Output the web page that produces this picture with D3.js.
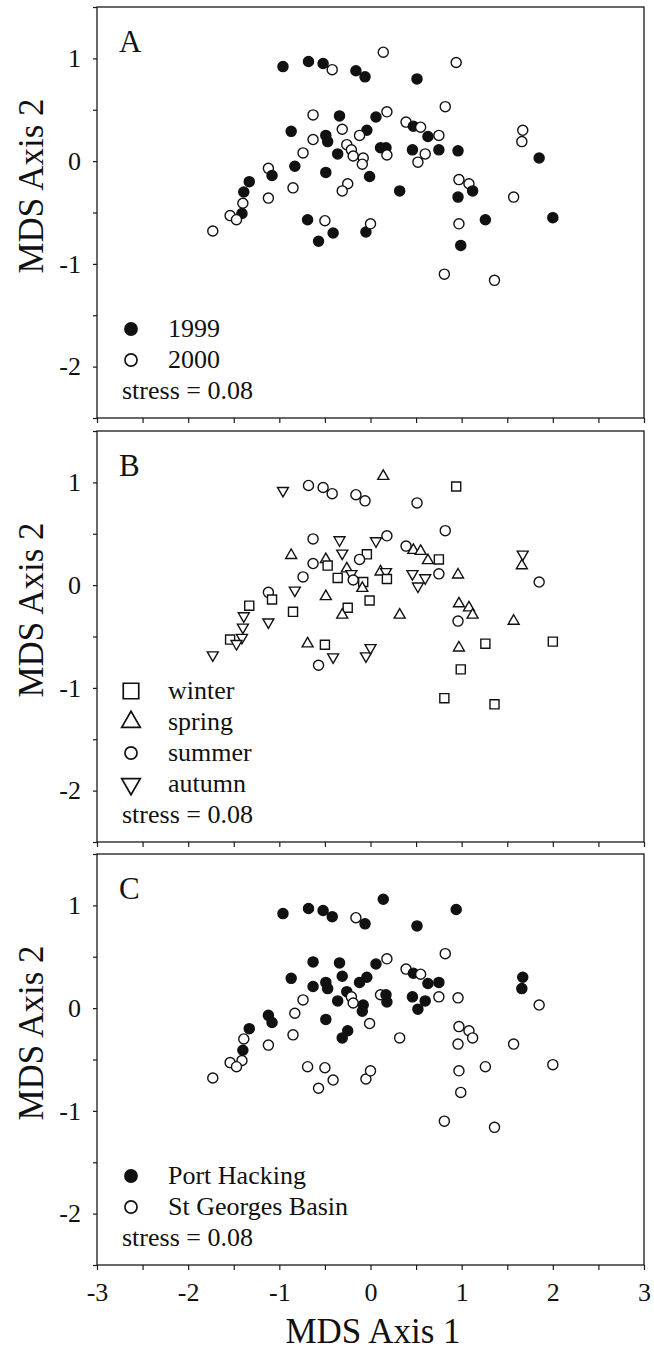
<!DOCTYPE html>
<html>
<head>
<meta charset="utf-8">
<title>MDS ordination</title>
<style>
  body {margin: 0; background: #ffffff;}
  svg {display: block;}
  text {font-family: "Liberation Serif", "Times New Roman", serif; fill: #111;}
  .frame {fill: none; stroke: #1a1a1a; stroke-width: 1.3px;}
  .tick line {stroke: #1a1a1a; stroke-width: 1.2px;}
  .tick text {font-size: 26px;}
  .mark {stroke: #111; stroke-width: 1.4px;}
  .legmark {stroke: #111; stroke-width: 1.7px;}
  .leg {font-size: 26px;}
  .letter {font-size: 31px;}
  .title {font-size: 35px;}
</style>
</head>
<body>
<script src="https://d3js.org/d3.v7.min.js"></script>
<script>

// sample scores on MDS axes 1 and 2
var mdsX = [-0.96,-0.68,-0.52,-0.42,-0.16,-0.06,0.14,0.94,0.51,-0.63,
  -0.34,-0.87,-0.31,-0.04,-0.63,-0.49,-0.47,-0.12,-0.26,-0.21,
  -0.19,-0.08,-0.09,-0.36,-0.74,-1.12,-1.08,-0.83,-0.49,-1.33,
  -1.39,-1.40,-1.12,-0.85,-0.25,-0.31,-0.01,0.18,0.06,
  0.82,0.39,0.47,0.55,0.63,0.75,0.11,0.17,0.18,0.46,
  0.60,0.52,0.75,0.96,1.67,1.66,1.85,
  0.97,1.08,1.12,0.96,0.32,1.57,
  -1.41,-1.54,-1.47,-1.73,
  -0.69,-0.50,-0.57,-0.41,-0.05,0.00,0.97,1.26,2.00,0.99,0.81,1.36];

var mdsY = [0.92,0.97,0.95,0.89,0.88,0.82,1.06,0.96,0.80,0.45,
  0.44,0.29,0.31,0.30,0.21,0.25,0.19,0.25,0.16,0.11,
  0.05,0.03,-0.03,0.07,0.08,-0.07,-0.14,-0.05,-0.11,-0.20,
  -0.30,-0.41,-0.36,-0.26,-0.22,-0.29,-0.15,0.48,0.43,
  0.53,0.38,0.34,0.33,0.24,0.25,0.13,0.13,0.06,0.11,
  0.07,-0.01,0.11,0.10,0.30,0.19,0.03,
  -0.18,-0.22,-0.29,-0.35,-0.29,-0.35,
  -0.51,-0.53,-0.57,-0.68,
  -0.57,-0.58,-0.78,-0.70,-0.69,-0.61,-0.61,-0.57,-0.55,-0.82,-1.10,-1.16];

var year = [1999,1999,1999,2000,1999,1999,2000,2000,1999,2000,
  1999,1999,2000,1999,2000,1999,1999,2000,2000,2000,
  2000,2000,2000,1999,2000,2000,1999,1999,1999,1999,
  1999,2000,2000,2000,2000,2000,1999,2000,1999,
  2000,2000,1999,2000,1999,2000,1999,1999,2000,1999,
  2000,2000,1999,1999,2000,2000,1999,
  2000,2000,1999,1999,1999,2000,
  1999,2000,2000,2000,
  1999,2000,1999,1999,1999,2000,2000,1999,1999,1999,2000,2000];

var season = ["autumn","summer","summer","summer","summer","summer","spring","winter","summer","summer",
  "autumn","spring","autumn","winter","summer","spring","winter","summer","spring","autumn",
  "summer","winter","spring","winter","summer","summer","winter","autumn","spring","winter",
  "autumn","autumn","autumn","winter","winter","spring","winter","summer","autumn",
  "summer","summer","spring","spring","spring","winter","spring","autumn","winter","autumn",
  "autumn","autumn","summer","spring","autumn","spring","summer",
  "spring","spring","spring","summer","spring","spring",
  "autumn","winter","autumn","autumn",
  "spring","winter","summer","autumn","autumn","autumn","spring","winter","winter","winter","winter","winter"];

var site = ["PH","PH","PH","PH","SGB","PH","PH","PH","PH","PH",
  "PH","PH","PH","PH","PH","PH","PH","PH","PH","SGB",
  "SGB","PH","PH","PH","SGB","PH","PH","SGB","PH","PH",
  "SGB","PH","SGB","SGB","PH","PH","SGB","SGB","PH",
  "SGB","SGB","PH","SGB","PH","PH","SGB","PH","PH","PH",
  "PH","PH","SGB","SGB","PH","PH","SGB",
  "SGB","SGB","SGB","SGB","SGB","SGB",
  "SGB","SGB","SGB","SGB",
  "SGB","SGB","SGB","SGB","SGB","SGB","SGB","SGB","SGB","SGB","SGB","SGB"];

var yearLabels = ["1999", "2000"];
var seasonLabels = ["winter", "spring", "summer", "autumn"];
var siteCodes = ["PH", "SGB"];
var siteLabels = ["Port Hacking", "St Georges Basin"];

var xTickValues = [-3, -2.5, -2, -1.5, -1, -0.5, 0, 0.5, 1, 1.5, 2, 2.5, 3];
var yTickValues = [-2.5, -2, -1.5, -1, -0.5, 0, 0.5, 1, 1.5];
var stressText = "stress = 0.08";

var W = 654, H = 1354;
var left = 97, right = 644, panelH = 411;
var panelTops = [7, 431, 854];

var svg = d3.select("body").append("svg").attr("width", W).attr("height", H);
var x = d3.scaleLinear().domain([-3, 3]).range([left, right]);

var shapes = {circle: d3.symbolCircle, square: d3.symbolSquare, up: d3.symbolTriangle, down: d3.symbolTriangle};
var plotSize = {circle: 80, square: 82, up: 52, down: 52};
var legSize = {circle: 115, square: 240, up: 150, down: 150};
var seasonShape = {winter: "square", spring: "up", summer: "circle", autumn: "down"};

var panels = [
  {letter: "A",
   mark: function(i) { return {shape: "circle", filled: year[i] == yearLabels[0]}; },
   legend: yearLabels.map(function(l, k) { return {shape: "circle", filled: k == 0, label: l}; })},
  {letter: "B",
   mark: function(i) { return {shape: seasonShape[season[i]], filled: false}; },
   legend: seasonLabels.map(function(l) { return {shape: seasonShape[l], filled: false, label: l}; })},
  {letter: "C",
   mark: function(i) { return {shape: "circle", filled: site[i] == siteCodes[0]}; },
   legend: siteLabels.map(function(l, k) { return {shape: "circle", filled: k == 0, label: l}; })}
];

function symbolTransform(cx, cy, shape) {
  return "translate(" + cx + "," + cy + ")" + (shape == "down" ? " rotate(180)" : "");
}

var idx = d3.range(mdsX.length);

panels.forEach(function(p, pi) {
  var top = panelTops[pi];
  var last = (pi == panels.length - 1);
  var y = d3.scaleLinear().domain([-2.5, 1.5]).range([top + panelH, top]);
  var g = svg.append("g");

  // axes
  var gx = g.append("g")
    .attr("transform", "translate(0," + (top + panelH) + ")")
    .call(d3.axisBottom(x).tickValues(xTickValues).tickSize(5).tickPadding(13)
      .tickFormat(function(d) { return (last && Number.isInteger(d)) ? String(d) : ""; }));
  gx.select(".domain").remove();

  var gy = g.append("g")
    .attr("transform", "translate(" + left + ",0)")
    .call(d3.axisLeft(y).tickValues(yTickValues).tickSize(4).tickPadding(12)
      .tickFormat(function(d) { return Number.isInteger(d) ? String(d) : ""; }));
  gy.select(".domain").remove();

  g.append("rect").attr("class", "frame")
    .attr("x", left).attr("y", top)
    .attr("width", right - left).attr("height", panelH);

  // points
  g.selectAll("path.pt").data(idx).enter().append("path")
    .attr("class", "pt mark")
    .attr("d", function(i) { var m = p.mark(i); return d3.symbol().type(shapes[m.shape]).size(plotSize[m.shape])(); })
    .attr("transform", function(i) { return symbolTransform(x(mdsX[i]), y(mdsY[i]), p.mark(i).shape); })
    .attr("fill", function(i) { return p.mark(i).filled ? "#111" : "#fff"; });

  // panel letter
  g.append("text").attr("class", "letter")
    .attr("x", left + 22).attr("y", top + 45).text(p.letter);

  // legend, stacked up from the stress line
  var n = p.legend.length;
  p.legend.forEach(function(e, k) {
    var base = top + 392 - 31 * (n - k);
    g.append("path").attr("class", "legmark")
      .attr("d", d3.symbol().type(shapes[e.shape]).size(legSize[e.shape])())
      .attr("transform", symbolTransform(131, base - 8, e.shape))
      .attr("fill", e.filled ? "#111" : "#fff");
    g.append("text").attr("class", "leg").attr("x", 168).attr("y", base).text(e.label);
  });
  g.append("text").attr("class", "leg").attr("x", 122).attr("y", top + 392).text(stressText);

  // y axis title
  g.append("text").attr("class", "title")
    .attr("text-anchor", "middle")
    .attr("transform", "translate(43," + (top + 179) + ") rotate(-90)")
    .text("MDS Axis 2");
});

svg.append("text").attr("class", "title")
  .attr("text-anchor", "middle")
  .attr("x", 373).attr("y", 1343)
  .text("MDS Axis 1");

</script>
</body>
</html>
